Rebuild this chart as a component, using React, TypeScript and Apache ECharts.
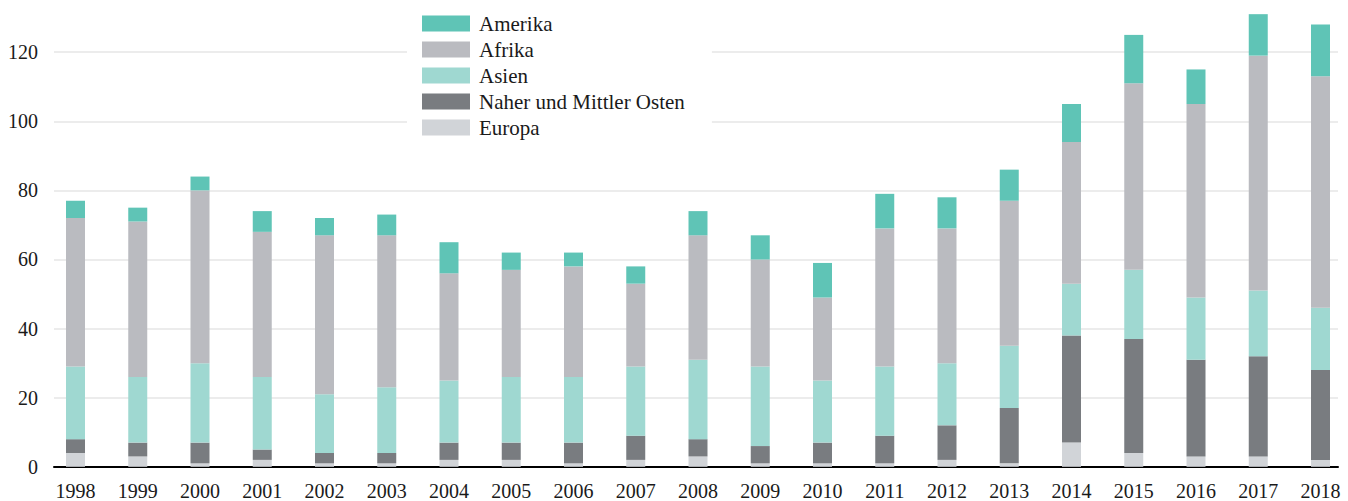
import React, { useEffect, useRef } from "react";
import * as echarts from "echarts";

const years = ["1998","1999","2000","2001","2002","2003","2004","2005","2006","2007","2008","2009","2010","2011","2012","2013","2014","2015","2016","2017","2018"];
const europa = [4,3,1,2,1,1,2,2,1,2,3,1,1,1,2,1,7,4,3,3,2];
const naherMittlerOsten = [4,4,6,3,3,3,5,5,6,7,5,5,6,8,10,16,31,33,28,29,26];
const asien = [21,19,23,21,17,19,18,19,19,20,23,23,18,20,18,18,15,20,18,19,18];
const afrika = [43,45,50,42,46,44,31,31,32,24,36,31,24,40,39,42,41,54,56,68,67];
const amerika = [5,4,4,6,5,6,9,5,4,5,7,7,10,10,9,9,11,14,10,12,15];
const yMin = 0;
const yMax = 134;
const yStep = 20;

const FONT = "Liberation Serif";
const TEXT = "#1a1a1a";

export default function App() {
  const ref = useRef<HTMLDivElement>(null);
  useEffect(() => {
    if (!ref.current) return;
    const chart = echarts.init(ref.current, undefined, { renderer: "svg" });
    const top = 3.8;
    const bottom = 34.2;
    const mk = (name: string, data: number[], color: string) => ({
      name,
      type: "bar",
      stack: "total",
      data,
      xAxisIndex: 1,
      yAxisIndex: 1,
      barWidth: 19,
      clip: false,
      itemStyle: { color },
      emphasis: { disabled: true },
    });
    chart.setOption({
      animation: false,
      textStyle: { fontFamily: FONT },
      grid: [
        { left: 54, right: 10, top, bottom },
        { left: 75.5, right: 27.5, top, bottom },
      ],
      xAxis: [
        {
          gridIndex: 0,
          type: "category",
          data: years,
          axisLine: { show: true, lineStyle: { color: "#000", width: 2 } },
          axisTick: { show: false },
          axisLabel: { show: false },
        },
        {
          gridIndex: 1,
          type: "category",
          data: years,
          boundaryGap: false,
          axisLine: { show: false },
          axisTick: { show: false },
          axisLabel: { color: TEXT, fontSize: 20, fontFamily: FONT, margin: 14 },
        },
      ],
      yAxis: [
        {
          gridIndex: 0,
          type: "value",
          min: yMin,
          max: yMax,
          interval: yStep,
          axisLine: { show: false },
          axisTick: { show: false },
          splitLine: { showMaxLine: false, lineStyle: { color: "#e6e6e6", width: 1.5 } },
          axisLabel: { color: TEXT, fontSize: 20, fontFamily: FONT, margin: 16, showMaxLabel: false },
        },
        {
          gridIndex: 1,
          type: "value",
          min: yMin,
          max: yMax,
          interval: yStep,
          show: false,
        },
      ],
      legend: {
        orient: "vertical",
        left: 407,
        top: 0,
        padding: [13, 27, 12, 15],
        backgroundColor: "#ffffff",
        itemWidth: 48,
        itemHeight: 16,
        itemGap: 5,
        icon: "rect",
        selectedMode: false,
        data: ["Amerika", "Afrika", "Asien", "Naher und Mittler Osten", "Europa"],
        textStyle: { color: TEXT, fontSize: 21, fontFamily: FONT, padding: [0, 0, 0, 4] },
      },
      series: [
        mk("Europa", europa, "#d1d4d8"),
        mk("Naher und Mittler Osten", naherMittlerOsten, "#797c80"),
        mk("Asien", asien, "#9fd8d1"),
        mk("Afrika", afrika, "#babbc0"),
        mk("Amerika", amerika, "#5fc4b6"),
      ],
    });
    return () => chart.dispose();
  }, []);
  return (
    <div
      ref={ref}
      style={{ position: "absolute", left: 0, top: 0, width: 1348, height: 501 }}
    />
  );
}
